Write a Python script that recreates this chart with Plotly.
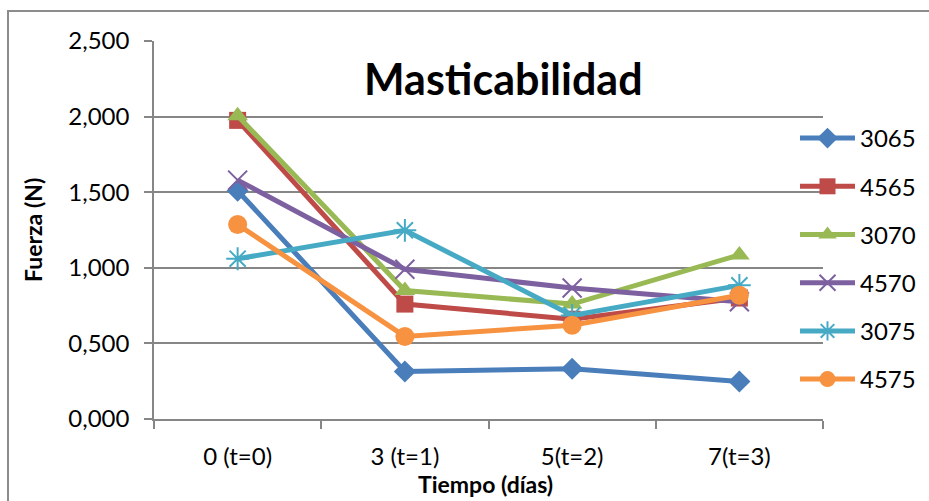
import plotly.graph_objects as go

# Masticabilidad: fuerza (N) por día de almacenamiento
categories = ["0 (t=0)", "3 (t=1)", "5(t=2)", "7(t=3)"]
series_names = ["3065", "4565", "3070", "4570", "3075", "4575"]
v3065 = [1.510, 0.314, 0.332, 0.248]
v4565 = [1.975, 0.760, 0.660, 0.800]
v3070 = [2.005, 0.850, 0.760, 1.085]
v4570 = [1.580, 0.990, 0.866, 0.775]
v3075 = [1.060, 1.248, 0.685, 0.884]
v4575 = [1.286, 0.546, 0.620, 0.818]
y_ticks = [0.0, 0.5, 1.0, 1.5, 2.0, 2.5]
y_tick_text = ["0,000", "0,500", "1,000", "1,500", "2,000", "2,500"]

values = [v3065, v4565, v3070, v4570, v3075, v4575]
colors = ["#4A7EBB", "#BE4B48", "#98B954", "#7D60A0", "#46AAC5", "#F69240"]
symbols = ["diamond", "square", "triangle-up", "x-thin-open", "asterisk-open", "circle"]
sizes = [17, 17, 18, 19, 19, 19]

W, H = 929, 501
L, R, T, B = 154, 823, 41, 419  # plot area in pixels

FONT = "Lato"

fig = go.Figure()
for name, vals, col, sym, sz in zip(series_names, values, colors, symbols, sizes):
    open_marker = sym.endswith("open")
    fig.add_trace(go.Scatter(
        x=categories, y=vals, name=name, mode="lines+markers",
        legendgroup=name,
        line=dict(color=col, width=5),
        marker=dict(symbol=sym, size=sz, color=col,
                    line=dict(color=col, width=2 if open_marker else 0)),
    ))


def px_x(p):
    return (p - L) / (R - L)


def px_y(p):
    return (B - p) / (B - T)


fig.update_layout(
    width=W, height=H,
    margin=dict(l=L, r=W - R, t=T, b=H - B, pad=0, autoexpand=False),
    paper_bgcolor="white", plot_bgcolor="white",
    font=dict(family=FONT, size=24, color="#000000"),
    showlegend=True,
    legend=dict(
        x=px_x(795), y=px_y(116), xanchor="left", yanchor="top",
        font=dict(family=FONT, size=24, color="#000000"),
        tracegroupgap=14, itemwidth=55, bgcolor="rgba(0,0,0,0)",
    ),
    xaxis=dict(
        type="category", range=[-0.5, len(categories) - 0.5],
        tickson="boundaries", ticks="outside", ticklen=8,
        tickwidth=1.5, tickcolor="#868686",
        ticklabelstandoff=15,
        showline=True, linecolor="#868686", linewidth=1.5,
        showgrid=False, zeroline=False,
        tickfont=dict(family=FONT, size=24),
    ),
    yaxis=dict(
        range=[0, 2.5], tickvals=y_ticks, ticktext=y_tick_text,
        ticks="outside", ticklen=8, tickwidth=1.5, tickcolor="#868686",
        ticklabelstandoff=10,
        showline=True, linecolor="#868686", linewidth=1.5,
        showgrid=True, gridcolor="#868686", gridwidth=1.5,
        zeroline=False,
        tickfont=dict(family=FONT, size=24),
    ),
    annotations=[
        dict(text="<b>Masticabilidad</b>", x=px_x(503), y=px_y(78),
             xref="paper", yref="paper", showarrow=False,
             xanchor="center", yanchor="middle",
             font=dict(family=FONT, size=43, color="#000000")),
        dict(text="<b>Fuerza (N)</b>", x=px_x(33), y=0.5, textangle=-90,
             xref="paper", yref="paper", showarrow=False,
             xanchor="center", yanchor="middle",
             font=dict(family=FONT, size=23, color="#000000")),
        dict(text="<b>Tiempo (días)</b>", x=px_x(485), y=px_y(500),
             xref="paper", yref="paper", showarrow=False,
             xanchor="center", yanchor="bottom",
             font=dict(family=FONT, size=23, color="#000000")),
    ],
    shapes=[
        # chart frame
        dict(type="rect", xref="paper", yref="paper",
             x0=px_x(8), y0=px_y(520), x1=px_x(950), y1=px_y(11),
             line=dict(color="#8c8c8c", width=2), fillcolor="rgba(0,0,0,0)",
             layer="below"),
    ],
)

fig.write_html("out.html")
